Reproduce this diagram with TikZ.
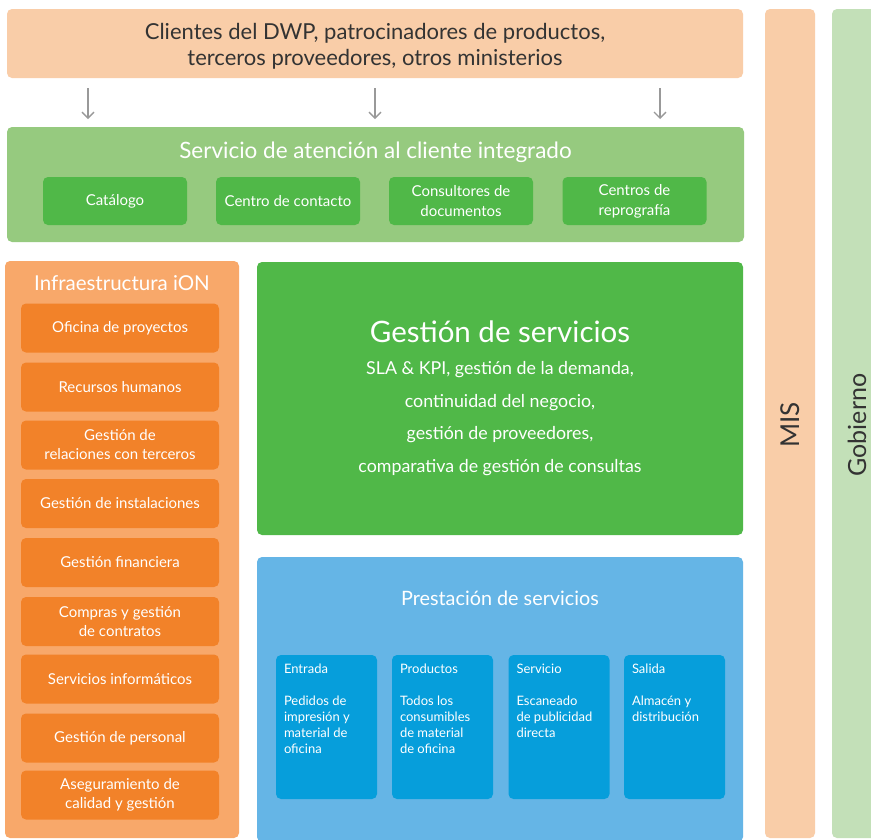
\documentclass[tikz,border=0pt]{standalone}
\usepackage{fontspec}
\setmainfont{Lato}
\usetikzlibrary{arrows.meta}
\definecolor{peach}{HTML}{F9CDA8}
\definecolor{lgreen}{HTML}{96CA7F}
\definecolor{mgreen}{HTML}{50B848}
\definecolor{pgreen}{HTML}{C3E0B8}
\definecolor{lorange}{HTML}{F8A86A}
\definecolor{dorange}{HTML}{F28229}
\definecolor{lblue}{HTML}{65B5E6}
\definecolor{dblue}{HTML}{069EDB}
\definecolor{darktext}{HTML}{333333}
\definecolor{arrowgray}{HTML}{999999}
\tikzset{
  box/.style={rounded corners=5pt, inner sep=0pt, align=center},
  obox/.style={box, fill=dorange, minimum width=198pt, minimum height=49pt, text=white, font=\fontsize{15}{19}\selectfont},
  gbox/.style={box, fill=mgreen, minimum width=144pt, minimum height=48pt, text=white, font=\fontsize{15}{20}\selectfont},
  bbox/.style={box, fill=dblue, minimum width=101pt, minimum height=144pt},
  btext/.style={anchor=north west, inner sep=0pt, align=left, text=white, font=\fontsize{13}{16}\selectfont},
  downarrow/.style={draw=arrowgray, line width=1.3pt, -{Straight Barb[length=6pt,width=12pt]}},
}
\begin{document}
\begin{tikzpicture}[x=1pt,y=-1pt]
\clip (0,0) rectangle (871,839);
\fill[white] (0,0) rectangle (871,839);
% top
\node[box, fill=peach, minimum width=736pt, minimum height=69pt] (top) at (375,43.5) {};
\node[align=center, text=darktext, font=\fontsize{22}{26}\selectfont] (topt) at (375,46) {Clientes del DWP, patrocinadores de productos,\\terceros proveedores, otros ministerios};
% side bars
\node[box, fill=peach, minimum width=50pt, minimum height=829pt] (mis) at (790,423.5) {};
\node[rotate=90, text=darktext, font=\fontsize{26}{30}\selectfont] (mist) at (790,425) {MIS};
\node[box, fill=pgreen, minimum width=60pt, minimum height=829pt] (gob) at (862,423.5) {};
\node[rotate=90, text=darktext, font=\fontsize{25}{30}\selectfont] (gobt) at (857,425) {Gobierno};
% customer service
\node[box, fill=lgreen, minimum width=737pt, minimum height=115pt] (svc) at (375.5,184.5) {};
\node[text=white, font=\fontsize{22.5}{26}\selectfont] (svct) at (375.5,152) {Servicio de atención al cliente integrado};
\node[gbox] (g1) at (115,201) {Catálogo};
\node[gbox] (g2) at (288,201) {Centro de contacto};
\node[gbox] (g3) at (461,201) {Consultores de\\documentos};
\node[gbox] (g4) at (634.5,201) {Centros de\\reprografía};
% arrows
\foreach \i/\x in {1/88,2/375,3/660}{
  \coordinate (as\i) at (\x,88);
  \coordinate (ae\i) at (\x,119);
  \draw[downarrow] (as\i) -- (ae\i);
}
% infrastructure
\node[box, fill=lorange, minimum width=234pt, minimum height=577pt] (infra) at (122,549.5) {};
\node[text=white, font=\fontsize{20.5}{24}\selectfont] (infrat) at (122,283) {Infraestructura iON};
\node[obox] (o1) at (120,328) {Oficina de proyectos};
\node[obox] (o2) at (120,387) {Recursos humanos};
\node[obox] (o3) at (120,445) {Gestión de\\relaciones con terceros};
\node[obox] (o4) at (120,503.5) {Gestión de instalaciones};
\node[obox] (o5) at (120,562.5) {Gestión financiera};
\node[obox] (o6) at (120,621.5) {Compras y gestión\\de contratos};
\node[obox] (o7) at (120,679) {Servicios informáticos};
\node[obox] (o8) at (120,738) {Gestión de personal};
\node[obox] (o9) at (120,795) {Aseguramiento de\\calidad y gestión};
% service management
\node[box, fill=mgreen, minimum width=486pt, minimum height=273pt] (mgmt) at (500,398.5) {};
\node[text=white, font=\fontsize{29.5}{34}\selectfont] (mgmtt) at (500,332) {Gestión de servicios};
\node[text=white, align=center, font=\fontsize{17.8}{32.5}\selectfont, anchor=north] (mgmtb) at (500,358) {SLA \& KPI, gestión de la demanda,\\continuidad del negocio,\\gestión de proveedores,\\comparativa de gestión de consultas};
% service delivery
\node[box, fill=lblue, minimum width=486pt, minimum height=285pt] (deliv) at (500,699.5) {};
\node[text=white, font=\fontsize{19.8}{24}\selectfont] (delivt) at (500,598) {Prestación de servicios};
\node[bbox] (b1) at (326.5,727) {};
\node[bbox] (b2) at (442.5,727) {};
\node[bbox] (b3) at (559,727) {};
\node[bbox] (b4) at (674.5,727) {};
\node[btext] at ([xshift=8pt,yshift=-9pt]b1.north west) {Entrada\\[16pt]Pedidos de\\impresión y\\material de\\oficina};
\node[btext] at ([xshift=8pt,yshift=-9pt]b2.north west) {Productos\\[16pt]Todos los\\consumibles\\de material\\de oficina};
\node[btext] at ([xshift=8pt,yshift=-9pt]b3.north west) {Servicio\\[16pt]Escaneado\\de publicidad\\directa};
\node[btext] at ([xshift=8pt,yshift=-9pt]b4.north west) {Salida\\[16pt]Almacén y\\distribución};
\end{tikzpicture}
\end{document}
